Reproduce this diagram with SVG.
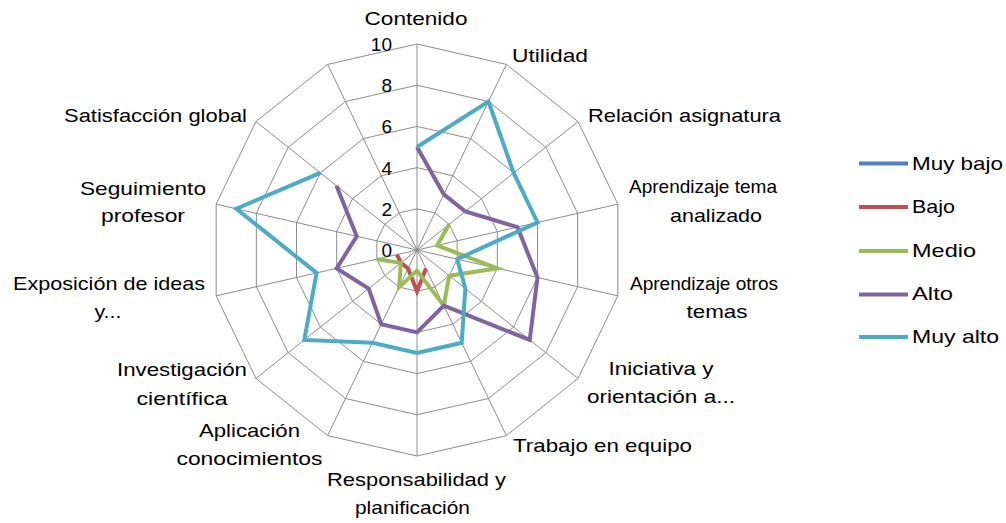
<svg xmlns="http://www.w3.org/2000/svg" width="1006" height="523" viewBox="0 0 1006 523">
<style>
text{font-family:"Liberation Sans",Arial,sans-serif;font-size:19px;fill:#000}
.m{text-anchor:middle}
.e{text-anchor:end}
.ring{fill:none;stroke:#8c8c8c;stroke-width:1}
.spoke{stroke:#8c8c8c;stroke-width:1;fill:none}
.s{fill:none;stroke-width:4;stroke-linejoin:miter;stroke-linecap:butt}
.mb{stroke:#4F81BD}.b{stroke:#C0504D}.md{stroke:#9BBB59}.a{stroke:#8064A2}.ma{stroke:#4BACC6}
</style>
<rect width="1006" height="523" fill="#fff"/>
<g id="grid" transform="translate(417,250)">
<polygon class="ring" points="0,-41.2 17.88,-37.12 32.21,-25.69 40.17,-9.17 40.17,9.17 32.21,25.69 17.88,37.12 0,41.2 -17.88,37.12 -32.21,25.69 -40.17,9.17 -40.17,-9.17 -32.21,-25.69 -17.88,-37.12"/>
<polygon class="ring" points="0,-82.4 35.75,-74.24 64.42,-51.38 80.34,-18.34 80.34,18.34 64.42,51.38 35.75,74.24 0,82.4 -35.75,74.24 -64.42,51.38 -80.34,18.34 -80.34,-18.34 -64.42,-51.38 -35.75,-74.24"/>
<polygon class="ring" points="0,-123.6 53.63,-111.36 96.64,-77.06 120.5,-27.5 120.5,27.5 96.64,77.06 53.63,111.36 0,123.6 -53.63,111.36 -96.64,77.06 -120.5,27.5 -120.5,-27.5 -96.64,-77.06 -53.63,-111.36"/>
<polygon class="ring" points="0,-164.8 71.5,-148.48 128.85,-102.75 160.67,-36.67 160.67,36.67 128.85,102.75 71.5,148.48 0,164.8 -71.5,148.48 -128.85,102.75 -160.67,36.67 -160.67,-36.67 -128.85,-102.75 -71.5,-148.48"/>
<polygon class="ring" points="0,-206 89.38,-185.6 161.06,-128.44 200.84,-45.84 200.84,45.84 161.06,128.44 89.38,185.6 0,206 -89.38,185.6 -161.06,128.44 -200.84,45.84 -200.84,-45.84 -161.06,-128.44 -89.38,-185.6"/>
<path class="spoke" d="M0,0V-206M0,0L89.38,-185.6M0,0L161.06,-128.44M0,0L200.84,-45.84M0,0L200.84,45.84M0,0L161.06,128.44M0,0L89.38,185.6M0,0V206M0,0L-89.38,185.6M0,0L-161.06,128.44M0,0L-200.84,45.84M0,0L-200.84,-45.84M0,0L-161.06,-128.44M0,0L-89.38,-185.6"/>
</g>
<g id="ticks">
<text class="e" x="392" y="51">10</text>
<text class="e" x="392" y="92">8</text>
<text class="e" x="392" y="133">6</text>
<text class="e" x="392" y="175">4</text>
<text class="e" x="392" y="216">2</text>
<text class="e" x="392" y="257">0</text>
</g>
<g id="series" transform="translate(417,250)">
<polyline id="s-bajo" class="s b" points="8.94,18.56 0,41.2 -8.94,18.56 -16.11,12.84 -20.08,4.58"/>
<polyline id="s-medio" class="s md" points="32.21,-25.69 20.08,-4.58 80.34,18.34 32.21,25.69 26.81,55.68 0,20.6 -17.88,37.12 -16.11,12.84 -40.17,9.17"/>
<polyline id="s-alto" class="s a" points="0,-103 26.81,-55.68 48.32,-38.53 100.42,-22.92 120.5,27.5 112.74,89.91 26.81,55.68 0,82.4 -35.75,74.24 -48.32,38.53 -80.34,18.34 -60.25,-13.75 -80.53,-64.22"/>
<polyline id="s-muyalto" class="s ma" points="0,-103 71.5,-148.48 96.64,-77.06 120.5,-27.5 40.17,9.17 48.32,38.53 44.69,92.8 0,103 -44.69,92.8 -112.74,89.91 -100.42,22.92 -180.75,-41.26 -96.64,-77.06"/>
</g>
<g id="labels">
<text class="m" x="416" y="25" textLength="103" lengthAdjust="spacingAndGlyphs">Contenido</text>
<text x="512" y="62" textLength="76" lengthAdjust="spacingAndGlyphs">Utilidad</text>
<text x="588" y="122" textLength="193" lengthAdjust="spacingAndGlyphs">Relación asignatura</text>
<text class="m" x="703" y="193" textLength="148" lengthAdjust="spacingAndGlyphs">Aprendizaje tema</text>
<text class="m" x="716" y="222" textLength="92" lengthAdjust="spacingAndGlyphs">analizado</text>
<text class="m" x="704" y="290" textLength="148" lengthAdjust="spacingAndGlyphs">Aprendizaje otros</text>
<text class="m" x="717" y="318" textLength="61" lengthAdjust="spacingAndGlyphs">temas</text>
<text class="m" x="661" y="375" textLength="105" lengthAdjust="spacingAndGlyphs">Iniciativa y</text>
<text class="m" x="661" y="403" textLength="148" lengthAdjust="spacingAndGlyphs">orientación a...</text>
<text x="513" y="452" textLength="179" lengthAdjust="spacingAndGlyphs">Trabajo en equipo</text>
<text class="m" x="416.5" y="486" textLength="179" lengthAdjust="spacingAndGlyphs">Responsabilidad y</text>
<text class="m" x="412.5" y="514" textLength="115" lengthAdjust="spacingAndGlyphs">planificación</text>
<text class="m" x="249.5" y="437" textLength="101" lengthAdjust="spacingAndGlyphs">Aplicación</text>
<text class="m" x="249.5" y="465" textLength="146" lengthAdjust="spacingAndGlyphs">conocimientos</text>
<text class="m" x="182" y="376" textLength="130" lengthAdjust="spacingAndGlyphs">Investigación</text>
<text class="m" x="182" y="405" textLength="91" lengthAdjust="spacingAndGlyphs">científica</text>
<text class="m" x="109" y="290" textLength="192" lengthAdjust="spacingAndGlyphs">Exposición de ideas</text>
<text class="m" x="108" y="318" textLength="27" lengthAdjust="spacingAndGlyphs">y...</text>
<text class="m" x="143" y="195" textLength="126" lengthAdjust="spacingAndGlyphs">Seguimiento</text>
<text class="m" x="143" y="222" textLength="84" lengthAdjust="spacingAndGlyphs">profesor</text>
<text x="64" y="122" textLength="183" lengthAdjust="spacingAndGlyphs">Satisfacción global</text>
</g>
<g id="legend">
<g id="leg-muybajo"><line class="s mb" x1="859" y1="163.5" x2="908" y2="163.5"/><text x="912" y="170" textLength="91" lengthAdjust="spacingAndGlyphs">Muy bajo</text></g>
<g id="leg-bajo"><line class="s b" x1="859" y1="207" x2="908" y2="207"/><text x="912" y="213" textLength="43" lengthAdjust="spacingAndGlyphs">Bajo</text></g>
<g id="leg-medio"><line class="s md" x1="859" y1="251" x2="908" y2="251"/><text x="912" y="257" textLength="64" lengthAdjust="spacingAndGlyphs">Medio</text></g>
<g id="leg-alto"><line class="s a" x1="859" y1="294.5" x2="908" y2="294.5"/><text x="912" y="300" textLength="41" lengthAdjust="spacingAndGlyphs">Alto</text></g>
<g id="leg-muyalto"><line class="s ma" x1="859" y1="337" x2="908" y2="337"/><text x="912" y="343" textLength="87" lengthAdjust="spacingAndGlyphs">Muy alto</text></g>
</g>
</svg>
